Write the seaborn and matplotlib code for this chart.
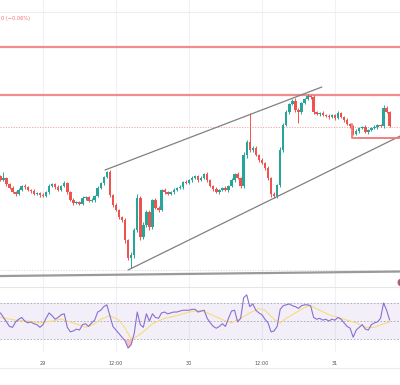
import numpy as np
import pandas as pd
import matplotlib
matplotlib.use("Agg")
import matplotlib.pyplot as plt
from matplotlib.lines import Line2D
import seaborn as sns

sns.set_theme(style="white")
plt.rcParams['font.family'] = ['DejaVu Sans']

# ---------------- data (30-min candles, 28th 17:00 -> 31st 09:00) ----------------
first_open = 224
closes = [220, 222, 216, 212, 208, 206, 210, 214, 213, 210,
          209, 206, 207, 205, 204, 208, 214, 216, 213, 210,
          214, 217, 208, 200, 197, 198, 196, 202, 203, 199,
          200, 204, 212, 217, 223, 228, 205, 195, 190, 183,
          180, 160, 142, 145, 170, 202, 163, 175, 188, 173,
          200, 192, 190, 210, 208, 206, 208, 210, 212, 213,
          218, 217, 220, 222, 224, 220, 222, 226, 220, 214,
          211, 208, 210, 212, 210, 214, 220, 226, 222, 214,
          245, 258, 250, 252, 245, 240, 237, 232, 222, 206,
          204, 215, 250, 275, 288, 296, 299, 290, 288, 297,
          301, 304, 303, 288, 286, 287, 285, 284, 283, 285,
          282, 287, 283, 280, 276, 274, 266, 269, 272, 273,
          268, 270, 272, 273, 275, 274, 292, 288, 274]
upper_wick = [1, 6, 1, 1, 2, 1, 2, 1, 2, 1,
              1, 2, 1, 1, 2, 1, 2, 1, 1, 2,
              1, 2, 1, 1, 2, 1, 1, 2, 1, 1,
              2, 1, 2, 1, 1, 1, 2, 1, 2, 1,
              1, 2, 1, 3, 2, 4, 2, 3, 2, 2,
              1, 2, 2, 1, 2, 1, 1, 2, 1, 2,
              1, 2, 1, 2, 1, 1, 2, 1, 2, 1,
              1, 2, 1, 1, 2, 1, 2, 1, 2, 1,
              3, 2, 29, 2, 2, 1, 2, 1, 2, 1,
              2, 1, 3, 2, 2, 1, 2, 3, 2, 1,
              1, 2, 1, 2, 1, 1, 2, 1, 2, 1,
              1, 2, 1, 1, 2, 1, 1, 2, 1, 1,
              2, 1, 1, 2, 1, 1, 3, 2, 1]
lower_wick = [1, 1, 2, 1, 1, 2, 1, 1, 2, 1,
              2, 1, 1, 2, 1, 1, 2, 1, 2, 1,
              1, 1, 2, 1, 2, 1, 1, 1, 2, 1,
              1, 2, 1, 1, 2, 1, 2, 2, 1, 2,
              2, 3, 2, 10, 3, 2, 3, 2, 2, 3,
              2, 1, 2, 1, 2, 1, 1, 2, 1, 1,
              2, 1, 1, 2, 1, 2, 1, 1, 2, 1,
              2, 1, 2, 1, 1, 2, 1, 2, 1, 2,
              2, 3, 2, 2, 1, 2, 1, 2, 2, 3,
              2, 2, 2, 2, 1, 2, 1, 2, 11, 2,
              1, 1, 2, 2, 1, 2, 1, 1, 2, 1,
              2, 1, 1, 2, 1, 2, 1, 1, 2, 1,
              1, 2, 1, 1, 2, 1, 2, 1, 1]
rsi = [59, 54, 49, 44, 43, 49, 52, 54, 50, 48,
       49, 47, 46, 43, 46, 53, 59, 56, 52, 54,
       57, 58, 43, 38, 39, 41, 40, 46, 47, 44,
       48, 51, 60, 62, 66, 68, 56, 44, 40, 36,
       32, 28, 20, 24, 36, 60, 46, 43, 58, 50,
       58, 54, 53, 59, 60, 58, 59, 60, 60, 61,
       62, 62, 62, 63, 63, 60, 61, 62, 53, 48,
       44, 42, 44, 47, 44, 53, 61, 62, 49, 53,
       76, 79, 66, 69, 62, 59, 57, 52, 48, 38,
       39, 44, 63, 67, 68, 69, 67, 66, 64, 67,
       68, 68, 67, 54, 52, 53, 51, 52, 50, 52,
       51, 54, 52, 48, 44, 42, 32, 40, 43, 46,
       41, 40, 46, 48, 49, 53, 70, 62, 51]
ma_idx = [0, 5, 9, 13, 17, 20, 24, 28, 31, 33, 36, 39, 41, 43, 45, 47, 50, 54, 58,
          62, 66, 70, 74, 76, 79, 82, 85, 87, 90, 92, 94, 97, 100, 102, 105, 108,
          111, 114, 117, 120, 123, 126, 128]
ma_val = [54, 51, 50, 48, 50, 52, 48, 43, 47, 52, 56, 51, 42, 30, 33, 38, 47, 53, 56,
          60, 62, 56, 50, 48, 53, 59, 64, 62, 52, 48, 53, 59, 65, 67, 62, 57,
          54, 51, 48, 43, 43, 47, 49]

tick_idx = [14, 38, 62, 86, 110]
tick_labels = ["29", "12:00", "30", "12:00", "31"]
resist_levels = [353, 305.5]
price_line = 273.5
support_dotted = 130
upper_channel = ([34.4, 105.7], [230, 313])
lower_channel = ([42.0, 135.0], [130, 269.3])
base_line = ([-2, 135], [123.9, 128.6])
box_line = ([115.6, 115.6, 140], [276, 262, 262])

# ---------------- build ----------------
opens = [first_open] + closes[:-1]
idx = np.arange(len(closes))
df = pd.DataFrame({"i": idx, "open": opens, "close": closes})
df["high"] = df[["open", "close"]].max(axis=1) + np.array(upper_wick)
df["low"] = df[["open", "close"]].min(axis=1) - np.array(lower_wick)
df["rsi"] = rsi

GREEN = "#26a69a"
RED = "#ef5350"

W, H = 400, 385
fig = plt.figure(figsize=(4, 3.85), dpi=100)
ax = fig.add_axes([0, 1 - 287 / H, 1, 287 / H])
ax2 = fig.add_axes([0, 1 - 352 / H, 1, 65 / H])

xlim = (-0.13, 131.4)
for a in (ax, ax2):
    a.set_xlim(*xlim)
    for s in a.spines.values():
        s.set_visible(False)
    for t in tick_idx:
        a.axvline(t, color="#f0f1f4", lw=0.8, zorder=0)
ax.set_ylim(113, 400)
ax.set_xticks([])
ax.set_yticks([])

# candles
up = df["close"] >= df["open"]
colors = np.where(up, GREEN, RED)
ax.vlines(df["i"], df["low"], df["high"], colors=colors, lw=0.7, zorder=3)
body = (df["close"] - df["open"]).abs().clip(lower=0.8)
ax.bar(df["i"], body, bottom=df[["open", "close"]].min(axis=1), width=0.8,
       color=colors, linewidth=0, zorder=4)

# drawings
for lv in resist_levels:
    ax.axhline(lv, color="#f28b8b", lw=1.6, zorder=2)
ax.axhline(price_line, color="#f5a5a5", lw=0.7, ls=(0, (1.2, 1.5)), zorder=2)
ax.axhline(support_dotted, color="#d9d9d9", lw=0.7, ls=(0, (1.2, 1.5)), zorder=2)
ax.axhline(388, color="#eeeeee", lw=0.8, zorder=1)
ax.plot(*upper_channel, color="#808080", lw=0.9, zorder=5)
ax.plot(*lower_channel, color="#808080", lw=0.9, zorder=5)
ax.plot(*base_line, color="#9a9a9a", lw=1.6, zorder=5)
ax.plot(*box_line, color="#f07878", lw=1.3, zorder=5)
ax.plot([131.6], [118], marker="o", ms=5, mfc="#4a72d8", mec="#ef5350", mew=0.8,
        clip_on=True, zorder=6)

fig.text(1 / W, 1 - 18.5 / H, "0 (−0.06%)", color="#f07070", fontsize=3.6, va="center")

# RSI pane
ax2.set_ylim(15.6, 87.8)
ax2.axhspan(30, 70, color="#7e57c2", alpha=0.09, lw=0, zorder=0)
for lv in (70, 50, 30):
    ax2.axhline(lv, color="#a7a3b8", lw=0.6, ls=(0, (2, 2)), zorder=1)
r = np.array(rsi, dtype=float)
ax2.fill_between(idx, r, 30, where=r < 30, interpolate=True, color="#ef5350",
                 alpha=0.35, lw=0, zorder=2)
sns.lineplot(x=ma_idx, y=ma_val, ax=ax2, color="#f7dc7a", lw=0.8, zorder=3)
sns.lineplot(data=df, x="i", y="rsi", ax=ax2, color="#8a6fd0", lw=0.8, zorder=4)
ax2.set_xlabel("")
ax2.set_ylabel("")
ax2.set_yticks([])
ax2.set_xticks(tick_idx)
ax2.set_xticklabels(tick_labels, fontsize=3.6, color="#555555")
ax2.tick_params(axis="x", length=0, pad=6.5)

fig.add_artist(Line2D([0, 1], [1 - 287 / H] * 2, color="#e6e6e6", lw=0.8))
fig.add_artist(Line2D([0, 1], [1 - 368 / H] * 2, color="#ececec", lw=0.8))

fig.savefig("out.png", dpi=100, facecolor="white")
